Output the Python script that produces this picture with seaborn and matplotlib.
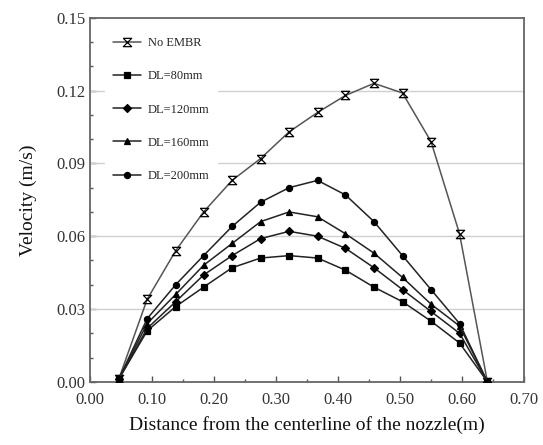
import numpy as np
import pandas as pd
import matplotlib
matplotlib.use("Agg")
import matplotlib.pyplot as plt
from matplotlib.path import Path
from matplotlib.ticker import MultipleLocator
import seaborn as sns

sns.set_theme(style="ticks")
plt.rcParams['font.family'] = ['Liberation Serif', 'DejaVu Serif']

distance = [0.046, 0.092, 0.138, 0.183, 0.229, 0.275, 0.321, 0.367,
            0.412, 0.458, 0.504, 0.550, 0.596, 0.641]
no_embr = [0.001, 0.034, 0.054, 0.070, 0.083, 0.092, 0.103, 0.111,
           0.118, 0.123, 0.119, 0.099, 0.061, 0.000]
dl80 = [0.001, 0.021, 0.031, 0.039, 0.047, 0.051, 0.052, 0.051,
        0.046, 0.039, 0.033, 0.025, 0.016, 0.000]
dl120 = [0.001, 0.022, 0.033, 0.044, 0.052, 0.059, 0.062, 0.060,
         0.055, 0.047, 0.038, 0.029, 0.020, 0.000]
dl160 = [0.001, 0.024, 0.036, 0.048, 0.057, 0.066, 0.070, 0.068,
         0.061, 0.053, 0.043, 0.032, 0.023, 0.000]
dl200 = [0.001, 0.026, 0.040, 0.052, 0.064, 0.074, 0.080, 0.083,
         0.077, 0.066, 0.052, 0.038, 0.024, 0.000]
labels = ["No EMBR", "DL=80mm", "DL=120mm", "DL=160mm", "DL=200mm"]
series = [no_embr, dl80, dl120, dl160, dl200]

hourglass = Path([(-1, 1), (1, 1), (-1, -1), (1, -1), (-1, 1)],
                 [Path.MOVETO, Path.LINETO, Path.LINETO, Path.LINETO, Path.LINETO])
markers = [hourglass, "s", "D", "^", "o"]
msizes = [6, 4.2, 3.6, 4.4, 4.4]
colors = ["#555555", "#222222", "#222222", "#222222", "#222222"]

fig = plt.figure(figsize=(5.43, 4.45), dpi=100)
ax = fig.add_axes([0.166, 0.142, 0.799, 0.818])

handles = []
for lab, vals, mk, ms, col in zip(labels, series, markers, msizes, colors):
    df = pd.DataFrame({"x": distance, "y": vals})
    fc = "none" if lab == "No EMBR" else "black"
    sns.lineplot(data=df, x="x", y="y", ax=ax, color=col, linewidth=1.1,
                 marker=mk, markersize=ms, markerfacecolor=fc,
                 markeredgecolor="black", markeredgewidth=0.9, zorder=3)
    h, = ax.plot([], [], color=col, linewidth=1.1, marker=mk, markersize=ms,
                 markerfacecolor=fc, markeredgecolor="black", markeredgewidth=0.9)
    handles.append(h)

ax.set_xlim(0, 0.70)
ax.set_ylim(0, 0.15)
ax.xaxis.set_major_locator(MultipleLocator(0.10))
ax.xaxis.set_minor_locator(MultipleLocator(0.05))
ax.yaxis.set_major_locator(MultipleLocator(0.03))
ax.yaxis.set_minor_locator(MultipleLocator(0.01))
ax.xaxis.set_major_formatter(plt.FuncFormatter(lambda v, p: f"{v:.2f}"))
ax.yaxis.set_major_formatter(plt.FuncFormatter(lambda v, p: f"{v:.2f}"))
ax.tick_params(axis="both", which="major", direction="in", length=4,
               width=1, color="#555555", labelsize=12, labelcolor="#333333")
ax.tick_params(axis="both", which="minor", direction="in", length=2.5,
               width=1, color="#555555")
ax.tick_params(axis="x", pad=7)

for sp in ax.spines.values():
    sp.set_color("#666666")
    sp.set_linewidth(1.3)
    sp.set_visible(True)

for yv in [0.03, 0.06, 0.09, 0.12]:
    ax.axhline(yv, color="#d0d0d0", linewidth=1.0, zorder=1)

ax.set_xlabel("Distance from the centerline of the nozzle(m)", fontsize=14,
              color="#111111", labelpad=6)
ax.set_ylabel("Velocity (m/s)", fontsize=14, color="#111111", labelpad=14)

leg = ax.legend(handles, labels, loc="upper left", bbox_to_anchor=(0.02, 0.985),
                frameon=True, fontsize=9, labelspacing=1.7, handlelength=2.3,
                handletextpad=0.5, borderpad=0.6, fancybox=False)
leg.get_frame().set_facecolor("white")
leg.get_frame().set_edgecolor("white")
leg.get_frame().set_alpha(1.0)
leg.set_zorder(2)

fig.savefig("out.png", dpi=100)
